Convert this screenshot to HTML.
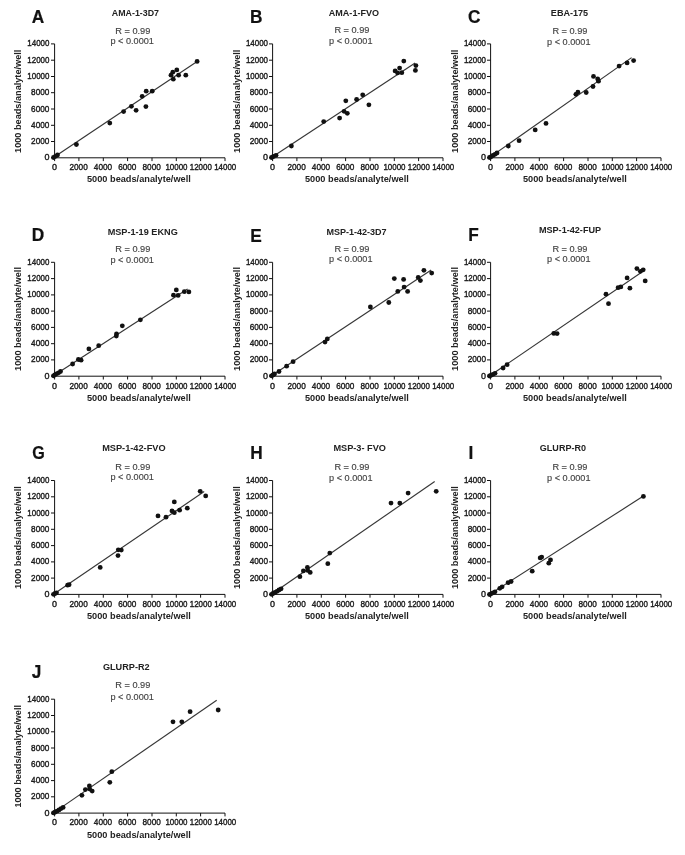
<!DOCTYPE html><html><head><meta charset="utf-8"><title>Figure</title><style>html,body{margin:0;padding:0;background:#fff}svg{display:block}text{font-family:"Liberation Sans",sans-serif}.t{font-size:9.6px;fill:#1a1a1a;stroke:#1a1a1a;stroke-width:.4}.b{font-size:9.3px;font-weight:bold;fill:#222}.s{font-size:9px;fill:#444;stroke:#444;stroke-width:.15}.L{font-size:19.2px;font-weight:bold;fill:#111;stroke:#111;stroke-width:.22}.ax{stroke:#111;stroke-width:1;fill:none}.ln{stroke:#363636;stroke-width:1.15;fill:none}circle{fill:#111}</style></head><body>
<svg width="685" height="855" viewBox="0 0 685 855"><rect width="685" height="855" fill="#fff"/>
<g>
<text class="L" transform="translate(31.65 22.75) scale(.9 1)">A</text>
<text class="b" text-anchor="middle" x="135.4" y="16.1" textLength="47.1" lengthAdjust="spacingAndGlyphs">AMA-1-3D7</text>
<text class="s" text-anchor="middle" x="132.8" y="33.5" textLength="35" lengthAdjust="spacingAndGlyphs">R = 0.99</text>
<text class="s" text-anchor="middle" x="132.2" y="44.3" textLength="43.4" lengthAdjust="spacingAndGlyphs">p &lt; 0.0001</text>
<path class="ax" d="M54.6 43.9V157.8H225M54.6 157.8v3.3M54.6 157.8h-3.6M78.9 157.8v3.3M54.6 141.5h-3.6M103.3 157.8v3.3M54.6 125.3h-3.6M127.6 157.8v3.3M54.6 109h-3.6M152 157.8v3.3M54.6 92.7h-3.6M176.3 157.8v3.3M54.6 76.5h-3.6M200.6 157.8v3.3M54.6 60.2h-3.6M225 157.8v3.3M54.6 43.9h-3.6"/>
<text class="t" text-anchor="middle" x="54.6" y="169.9" textLength="5" lengthAdjust="spacingAndGlyphs">0</text>
<text class="t" text-anchor="end" x="49.4" y="160.3" textLength="5" lengthAdjust="spacingAndGlyphs">0</text>
<text class="t" text-anchor="middle" x="78.6" y="169.9" textLength="18.3" lengthAdjust="spacingAndGlyphs">2000</text>
<text class="t" text-anchor="end" x="49.4" y="144" textLength="18.3" lengthAdjust="spacingAndGlyphs">2000</text>
<text class="t" text-anchor="middle" x="103" y="169.9" textLength="18.3" lengthAdjust="spacingAndGlyphs">4000</text>
<text class="t" text-anchor="end" x="49.4" y="127.8" textLength="18.3" lengthAdjust="spacingAndGlyphs">4000</text>
<text class="t" text-anchor="middle" x="127.3" y="169.9" textLength="18.3" lengthAdjust="spacingAndGlyphs">6000</text>
<text class="t" text-anchor="end" x="49.4" y="111.5" textLength="18.3" lengthAdjust="spacingAndGlyphs">6000</text>
<text class="t" text-anchor="middle" x="151.7" y="169.9" textLength="18.3" lengthAdjust="spacingAndGlyphs">8000</text>
<text class="t" text-anchor="end" x="49.4" y="95.2" textLength="18.3" lengthAdjust="spacingAndGlyphs">8000</text>
<text class="t" text-anchor="middle" x="176.5" y="169.9" textLength="22.1" lengthAdjust="spacingAndGlyphs">10000</text>
<text class="t" text-anchor="end" x="49.4" y="79" textLength="22.1" lengthAdjust="spacingAndGlyphs">10000</text>
<text class="t" text-anchor="middle" x="200.8" y="169.9" textLength="22.1" lengthAdjust="spacingAndGlyphs">12000</text>
<text class="t" text-anchor="end" x="49.4" y="62.7" textLength="22.1" lengthAdjust="spacingAndGlyphs">12000</text>
<text class="t" text-anchor="middle" x="225.2" y="169.9" textLength="22.1" lengthAdjust="spacingAndGlyphs">14000</text>
<text class="t" text-anchor="end" x="49.4" y="46.4" textLength="22.1" lengthAdjust="spacingAndGlyphs">14000</text>
<text class="b" text-anchor="middle" x="138.9" y="182.4" textLength="103.8" lengthAdjust="spacingAndGlyphs">5000 beads/analyte/well</text>
<text class="b" text-anchor="middle" transform="translate(21 101.3) rotate(-90)" textLength="103.2" lengthAdjust="spacingAndGlyphs">1000 beads/analyte/well</text>
<path class="ln" d="M53.5 157.5L197.1 61.4"/>
<circle cx="197.1" cy="61.4" r="2.42"/>
<circle cx="176.8" cy="69.9" r="2.42"/>
<circle cx="172.8" cy="72.2" r="2.42"/>
<circle cx="171" cy="75.2" r="2.42"/>
<circle cx="178.6" cy="75.2" r="2.42"/>
<circle cx="185.8" cy="75.2" r="2.42"/>
<circle cx="173.3" cy="79.2" r="2.42"/>
<circle cx="146.2" cy="91.2" r="2.42"/>
<circle cx="152.2" cy="91.2" r="2.42"/>
<circle cx="142.2" cy="96.3" r="2.42"/>
<circle cx="145.9" cy="106.6" r="2.42"/>
<circle cx="131.4" cy="106.3" r="2.42"/>
<circle cx="136.1" cy="110.3" r="2.42"/>
<circle cx="123.6" cy="111.6" r="2.42"/>
<circle cx="109.8" cy="123.1" r="2.42"/>
<circle cx="76.4" cy="144.5" r="2.42"/>
<circle cx="57.5" cy="155" r="2.42"/>
<circle cx="55.5" cy="156.3" r="2.42"/>
<circle cx="53.5" cy="157.5" r="2.42"/>
</g>
<g>
<text class="L" transform="translate(250.1 22.5) scale(.9 1)">B</text>
<text class="b" text-anchor="middle" x="353.9" y="15.5" textLength="50.2" lengthAdjust="spacingAndGlyphs">AMA-1-FVO</text>
<text class="s" text-anchor="middle" x="351.9" y="32.7" textLength="35" lengthAdjust="spacingAndGlyphs">R = 0.99</text>
<text class="s" text-anchor="middle" x="350.8" y="43.8" textLength="43.4" lengthAdjust="spacingAndGlyphs">p &lt; 0.0001</text>
<path class="ax" d="M272.6 43.9V157.8H443M272.6 157.8v3.3M272.6 157.8h-3.6M296.9 157.8v3.3M272.6 141.5h-3.6M321.3 157.8v3.3M272.6 125.3h-3.6M345.6 157.8v3.3M272.6 109h-3.6M370 157.8v3.3M272.6 92.7h-3.6M394.3 157.8v3.3M272.6 76.5h-3.6M418.6 157.8v3.3M272.6 60.2h-3.6M443 157.8v3.3M272.6 43.9h-3.6"/>
<text class="t" text-anchor="middle" x="272.6" y="169.9" textLength="5" lengthAdjust="spacingAndGlyphs">0</text>
<text class="t" text-anchor="end" x="268" y="160.3" textLength="5" lengthAdjust="spacingAndGlyphs">0</text>
<text class="t" text-anchor="middle" x="296.6" y="169.9" textLength="18.3" lengthAdjust="spacingAndGlyphs">2000</text>
<text class="t" text-anchor="end" x="268" y="144" textLength="18.3" lengthAdjust="spacingAndGlyphs">2000</text>
<text class="t" text-anchor="middle" x="321" y="169.9" textLength="18.3" lengthAdjust="spacingAndGlyphs">4000</text>
<text class="t" text-anchor="end" x="268" y="127.8" textLength="18.3" lengthAdjust="spacingAndGlyphs">4000</text>
<text class="t" text-anchor="middle" x="345.3" y="169.9" textLength="18.3" lengthAdjust="spacingAndGlyphs">6000</text>
<text class="t" text-anchor="end" x="268" y="111.5" textLength="18.3" lengthAdjust="spacingAndGlyphs">6000</text>
<text class="t" text-anchor="middle" x="369.7" y="169.9" textLength="18.3" lengthAdjust="spacingAndGlyphs">8000</text>
<text class="t" text-anchor="end" x="268" y="95.2" textLength="18.3" lengthAdjust="spacingAndGlyphs">8000</text>
<text class="t" text-anchor="middle" x="394.5" y="169.9" textLength="22.1" lengthAdjust="spacingAndGlyphs">10000</text>
<text class="t" text-anchor="end" x="268" y="79" textLength="22.1" lengthAdjust="spacingAndGlyphs">10000</text>
<text class="t" text-anchor="middle" x="418.8" y="169.9" textLength="22.1" lengthAdjust="spacingAndGlyphs">12000</text>
<text class="t" text-anchor="end" x="268" y="62.7" textLength="22.1" lengthAdjust="spacingAndGlyphs">12000</text>
<text class="t" text-anchor="middle" x="443.2" y="169.9" textLength="22.1" lengthAdjust="spacingAndGlyphs">14000</text>
<text class="t" text-anchor="end" x="268" y="46.4" textLength="22.1" lengthAdjust="spacingAndGlyphs">14000</text>
<text class="b" text-anchor="middle" x="356.9" y="182.4" textLength="103.8" lengthAdjust="spacingAndGlyphs">5000 beads/analyte/well</text>
<text class="b" text-anchor="middle" transform="translate(239.9 101.3) rotate(-90)" textLength="103.2" lengthAdjust="spacingAndGlyphs">1000 beads/analyte/well</text>
<path class="ln" d="M271.5 157.5L415.1 63.1"/>
<circle cx="403.8" cy="61.1" r="2.42"/>
<circle cx="415.9" cy="65.6" r="2.42"/>
<circle cx="415.4" cy="70.4" r="2.42"/>
<circle cx="399.6" cy="68.1" r="2.42"/>
<circle cx="395.1" cy="70.9" r="2.42"/>
<circle cx="397.6" cy="72.9" r="2.42"/>
<circle cx="401.8" cy="72.7" r="2.42"/>
<circle cx="362.7" cy="94.8" r="2.42"/>
<circle cx="356.6" cy="99.5" r="2.42"/>
<circle cx="345.8" cy="100.8" r="2.42"/>
<circle cx="368.9" cy="104.8" r="2.42"/>
<circle cx="344.1" cy="111.3" r="2.42"/>
<circle cx="347.3" cy="113.3" r="2.42"/>
<circle cx="339.6" cy="118.1" r="2.42"/>
<circle cx="323.7" cy="121.6" r="2.42"/>
<circle cx="291.4" cy="146" r="2.42"/>
<circle cx="276" cy="155.3" r="2.42"/>
<circle cx="273.5" cy="156.5" r="2.42"/>
<circle cx="271.5" cy="157.5" r="2.42"/>
</g>
<g>
<text class="L" transform="translate(468.05 22.65) scale(.9 1)">C</text>
<text class="b" text-anchor="middle" x="569.5" y="16.3" textLength="37.3" lengthAdjust="spacingAndGlyphs">EBA-175</text>
<text class="s" text-anchor="middle" x="569.9" y="33.9" textLength="35" lengthAdjust="spacingAndGlyphs">R = 0.99</text>
<text class="s" text-anchor="middle" x="568.8" y="44.7" textLength="43.4" lengthAdjust="spacingAndGlyphs">p &lt; 0.0001</text>
<path class="ax" d="M490.6 43.9V157.8H661M490.6 157.8v3.3M490.6 157.8h-3.6M514.9 157.8v3.3M490.6 141.5h-3.6M539.3 157.8v3.3M490.6 125.3h-3.6M563.6 157.8v3.3M490.6 109h-3.6M588 157.8v3.3M490.6 92.7h-3.6M612.3 157.8v3.3M490.6 76.5h-3.6M636.6 157.8v3.3M490.6 60.2h-3.6M661 157.8v3.3M490.6 43.9h-3.6"/>
<text class="t" text-anchor="middle" x="490.6" y="169.9" textLength="5" lengthAdjust="spacingAndGlyphs">0</text>
<text class="t" text-anchor="end" x="486" y="160.3" textLength="5" lengthAdjust="spacingAndGlyphs">0</text>
<text class="t" text-anchor="middle" x="514.6" y="169.9" textLength="18.3" lengthAdjust="spacingAndGlyphs">2000</text>
<text class="t" text-anchor="end" x="486" y="144" textLength="18.3" lengthAdjust="spacingAndGlyphs">2000</text>
<text class="t" text-anchor="middle" x="539" y="169.9" textLength="18.3" lengthAdjust="spacingAndGlyphs">4000</text>
<text class="t" text-anchor="end" x="486" y="127.8" textLength="18.3" lengthAdjust="spacingAndGlyphs">4000</text>
<text class="t" text-anchor="middle" x="563.3" y="169.9" textLength="18.3" lengthAdjust="spacingAndGlyphs">6000</text>
<text class="t" text-anchor="end" x="486" y="111.5" textLength="18.3" lengthAdjust="spacingAndGlyphs">6000</text>
<text class="t" text-anchor="middle" x="587.7" y="169.9" textLength="18.3" lengthAdjust="spacingAndGlyphs">8000</text>
<text class="t" text-anchor="end" x="486" y="95.2" textLength="18.3" lengthAdjust="spacingAndGlyphs">8000</text>
<text class="t" text-anchor="middle" x="612.5" y="169.9" textLength="22.1" lengthAdjust="spacingAndGlyphs">10000</text>
<text class="t" text-anchor="end" x="486" y="79" textLength="22.1" lengthAdjust="spacingAndGlyphs">10000</text>
<text class="t" text-anchor="middle" x="636.8" y="169.9" textLength="22.1" lengthAdjust="spacingAndGlyphs">12000</text>
<text class="t" text-anchor="end" x="486" y="62.7" textLength="22.1" lengthAdjust="spacingAndGlyphs">12000</text>
<text class="t" text-anchor="middle" x="661.2" y="169.9" textLength="22.1" lengthAdjust="spacingAndGlyphs">14000</text>
<text class="t" text-anchor="end" x="486" y="46.4" textLength="22.1" lengthAdjust="spacingAndGlyphs">14000</text>
<text class="b" text-anchor="middle" x="574.9" y="182.4" textLength="103.8" lengthAdjust="spacingAndGlyphs">5000 beads/analyte/well</text>
<text class="b" text-anchor="middle" transform="translate(457.9 101.3) rotate(-90)" textLength="103.2" lengthAdjust="spacingAndGlyphs">1000 beads/analyte/well</text>
<path class="ln" d="M489.5 157.5L631.6 57.6"/>
<circle cx="633.6" cy="60.6" r="2.42"/>
<circle cx="627.1" cy="62.9" r="2.42"/>
<circle cx="619.1" cy="66.1" r="2.42"/>
<circle cx="593.5" cy="76.4" r="2.42"/>
<circle cx="597.7" cy="78.9" r="2.42"/>
<circle cx="598.5" cy="81.2" r="2.42"/>
<circle cx="593" cy="86.5" r="2.42"/>
<circle cx="586.2" cy="92.5" r="2.42"/>
<circle cx="577.9" cy="92.2" r="2.42"/>
<circle cx="575.9" cy="94.3" r="2.42"/>
<circle cx="546" cy="123.4" r="2.42"/>
<circle cx="535.2" cy="129.9" r="2.42"/>
<circle cx="519.1" cy="140.7" r="2.42"/>
<circle cx="508.3" cy="146" r="2.42"/>
<circle cx="497" cy="153" r="2.42"/>
<circle cx="495" cy="154.3" r="2.42"/>
<circle cx="493" cy="155.5" r="2.42"/>
<circle cx="491" cy="156.8" r="2.42"/>
<circle cx="489.5" cy="157.5" r="2.42"/>
</g>
<g>
<text class="L" transform="translate(31.85 241.1) scale(.9 1)">D</text>
<text class="b" text-anchor="middle" x="142.7" y="234.9" textLength="70.1" lengthAdjust="spacingAndGlyphs">MSP-1-19 EKNG</text>
<text class="s" text-anchor="middle" x="132.8" y="251.9" textLength="35" lengthAdjust="spacingAndGlyphs">R = 0.99</text>
<text class="s" text-anchor="middle" x="132.2" y="262.6" textLength="43.4" lengthAdjust="spacingAndGlyphs">p &lt; 0.0001</text>
<path class="ax" d="M54.6 262.3V376.2H225M54.6 376.2v3.3M54.6 376.2h-3.6M78.9 376.2v3.3M54.6 359.9h-3.6M103.3 376.2v3.3M54.6 343.7h-3.6M127.6 376.2v3.3M54.6 327.4h-3.6M152 376.2v3.3M54.6 311.1h-3.6M176.3 376.2v3.3M54.6 294.9h-3.6M200.6 376.2v3.3M54.6 278.6h-3.6M225 376.2v3.3M54.6 262.3h-3.6"/>
<text class="t" text-anchor="middle" x="54.6" y="388.8" textLength="5" lengthAdjust="spacingAndGlyphs">0</text>
<text class="t" text-anchor="end" x="49.4" y="378.7" textLength="5" lengthAdjust="spacingAndGlyphs">0</text>
<text class="t" text-anchor="middle" x="78.6" y="388.8" textLength="18.3" lengthAdjust="spacingAndGlyphs">2000</text>
<text class="t" text-anchor="end" x="49.4" y="362.4" textLength="18.3" lengthAdjust="spacingAndGlyphs">2000</text>
<text class="t" text-anchor="middle" x="103" y="388.8" textLength="18.3" lengthAdjust="spacingAndGlyphs">4000</text>
<text class="t" text-anchor="end" x="49.4" y="346.2" textLength="18.3" lengthAdjust="spacingAndGlyphs">4000</text>
<text class="t" text-anchor="middle" x="127.3" y="388.8" textLength="18.3" lengthAdjust="spacingAndGlyphs">6000</text>
<text class="t" text-anchor="end" x="49.4" y="329.9" textLength="18.3" lengthAdjust="spacingAndGlyphs">6000</text>
<text class="t" text-anchor="middle" x="151.7" y="388.8" textLength="18.3" lengthAdjust="spacingAndGlyphs">8000</text>
<text class="t" text-anchor="end" x="49.4" y="313.6" textLength="18.3" lengthAdjust="spacingAndGlyphs">8000</text>
<text class="t" text-anchor="middle" x="176.5" y="388.8" textLength="22.1" lengthAdjust="spacingAndGlyphs">10000</text>
<text class="t" text-anchor="end" x="49.4" y="297.4" textLength="22.1" lengthAdjust="spacingAndGlyphs">10000</text>
<text class="t" text-anchor="middle" x="200.8" y="388.8" textLength="22.1" lengthAdjust="spacingAndGlyphs">12000</text>
<text class="t" text-anchor="end" x="49.4" y="281.1" textLength="22.1" lengthAdjust="spacingAndGlyphs">12000</text>
<text class="t" text-anchor="middle" x="225.2" y="388.8" textLength="22.1" lengthAdjust="spacingAndGlyphs">14000</text>
<text class="t" text-anchor="end" x="49.4" y="264.8" textLength="22.1" lengthAdjust="spacingAndGlyphs">14000</text>
<text class="b" text-anchor="middle" x="138.9" y="400.8" textLength="103.8" lengthAdjust="spacingAndGlyphs">5000 beads/analyte/well</text>
<text class="b" text-anchor="middle" transform="translate(21 319) rotate(-90)" textLength="103.9" lengthAdjust="spacingAndGlyphs">1000 beads/analyte/well</text>
<path class="ln" d="M53.5 375.8L187.6 288.9"/>
<circle cx="176.3" cy="289.9" r="2.42"/>
<circle cx="184.3" cy="291.7" r="2.42"/>
<circle cx="188.9" cy="291.9" r="2.42"/>
<circle cx="173.5" cy="295.2" r="2.42"/>
<circle cx="178.1" cy="295.4" r="2.42"/>
<circle cx="140.4" cy="319.8" r="2.42"/>
<circle cx="122.3" cy="325.8" r="2.42"/>
<circle cx="116.5" cy="333.9" r="2.42"/>
<circle cx="116.3" cy="336.1" r="2.42"/>
<circle cx="98.7" cy="345.7" r="2.42"/>
<circle cx="88.9" cy="348.9" r="2.42"/>
<circle cx="78.4" cy="359.5" r="2.42"/>
<circle cx="81.1" cy="360.2" r="2.42"/>
<circle cx="72.6" cy="364" r="2.42"/>
<circle cx="60.5" cy="371.5" r="2.42"/>
<circle cx="58.5" cy="372.8" r="2.42"/>
<circle cx="56.5" cy="373.8" r="2.42"/>
<circle cx="54.8" cy="374.8" r="2.42"/>
<circle cx="53.5" cy="375.8" r="2.42"/>
</g>
<g>
<text class="L" transform="translate(250.35 242.25) scale(.9 1)">E</text>
<text class="b" text-anchor="middle" x="356.5" y="235.2" textLength="60.2" lengthAdjust="spacingAndGlyphs">MSP-1-42-3D7</text>
<text class="s" text-anchor="middle" x="351.9" y="251.5" textLength="35" lengthAdjust="spacingAndGlyphs">R = 0.99</text>
<text class="s" text-anchor="middle" x="350.8" y="262.4" textLength="43.4" lengthAdjust="spacingAndGlyphs">p &lt; 0.0001</text>
<path class="ax" d="M272.6 262.3V376.2H443M272.6 376.2v3.3M272.6 376.2h-3.6M296.9 376.2v3.3M272.6 359.9h-3.6M321.3 376.2v3.3M272.6 343.7h-3.6M345.6 376.2v3.3M272.6 327.4h-3.6M370 376.2v3.3M272.6 311.1h-3.6M394.3 376.2v3.3M272.6 294.9h-3.6M418.6 376.2v3.3M272.6 278.6h-3.6M443 376.2v3.3M272.6 262.3h-3.6"/>
<text class="t" text-anchor="middle" x="272.6" y="388.8" textLength="5" lengthAdjust="spacingAndGlyphs">0</text>
<text class="t" text-anchor="end" x="268" y="378.7" textLength="5" lengthAdjust="spacingAndGlyphs">0</text>
<text class="t" text-anchor="middle" x="296.6" y="388.8" textLength="18.3" lengthAdjust="spacingAndGlyphs">2000</text>
<text class="t" text-anchor="end" x="268" y="362.4" textLength="18.3" lengthAdjust="spacingAndGlyphs">2000</text>
<text class="t" text-anchor="middle" x="321" y="388.8" textLength="18.3" lengthAdjust="spacingAndGlyphs">4000</text>
<text class="t" text-anchor="end" x="268" y="346.2" textLength="18.3" lengthAdjust="spacingAndGlyphs">4000</text>
<text class="t" text-anchor="middle" x="345.3" y="388.8" textLength="18.3" lengthAdjust="spacingAndGlyphs">6000</text>
<text class="t" text-anchor="end" x="268" y="329.9" textLength="18.3" lengthAdjust="spacingAndGlyphs">6000</text>
<text class="t" text-anchor="middle" x="369.7" y="388.8" textLength="18.3" lengthAdjust="spacingAndGlyphs">8000</text>
<text class="t" text-anchor="end" x="268" y="313.6" textLength="18.3" lengthAdjust="spacingAndGlyphs">8000</text>
<text class="t" text-anchor="middle" x="394.5" y="388.8" textLength="22.1" lengthAdjust="spacingAndGlyphs">10000</text>
<text class="t" text-anchor="end" x="268" y="297.4" textLength="22.1" lengthAdjust="spacingAndGlyphs">10000</text>
<text class="t" text-anchor="middle" x="418.8" y="388.8" textLength="22.1" lengthAdjust="spacingAndGlyphs">12000</text>
<text class="t" text-anchor="end" x="268" y="281.1" textLength="22.1" lengthAdjust="spacingAndGlyphs">12000</text>
<text class="t" text-anchor="middle" x="443.2" y="388.8" textLength="22.1" lengthAdjust="spacingAndGlyphs">14000</text>
<text class="t" text-anchor="end" x="268" y="264.8" textLength="22.1" lengthAdjust="spacingAndGlyphs">14000</text>
<text class="b" text-anchor="middle" x="356.9" y="400.8" textLength="103.8" lengthAdjust="spacingAndGlyphs">5000 beads/analyte/well</text>
<text class="b" text-anchor="middle" transform="translate(239.9 319) rotate(-90)" textLength="103.9" lengthAdjust="spacingAndGlyphs">1000 beads/analyte/well</text>
<path class="ln" d="M271.5 375.8L431.2 270.1"/>
<circle cx="423.9" cy="270.3" r="2.42"/>
<circle cx="431.7" cy="273.1" r="2.42"/>
<circle cx="394.3" cy="278.6" r="2.42"/>
<circle cx="403.6" cy="279.4" r="2.42"/>
<circle cx="418.2" cy="277.4" r="2.42"/>
<circle cx="420.4" cy="280.6" r="2.42"/>
<circle cx="404.1" cy="287.1" r="2.42"/>
<circle cx="397.8" cy="291.4" r="2.42"/>
<circle cx="407.6" cy="291.4" r="2.42"/>
<circle cx="388.8" cy="302.5" r="2.42"/>
<circle cx="370.4" cy="307" r="2.42"/>
<circle cx="327.3" cy="338.9" r="2.42"/>
<circle cx="325" cy="342.1" r="2.42"/>
<circle cx="293.1" cy="361.7" r="2.42"/>
<circle cx="286.6" cy="366.2" r="2.42"/>
<circle cx="279" cy="371.5" r="2.42"/>
<circle cx="274.5" cy="374" r="2.42"/>
<circle cx="273" cy="375" r="2.42"/>
<circle cx="271.5" cy="375.8" r="2.42"/>
</g>
<g>
<text class="L" transform="translate(468.25 241.15) scale(.9 1)">F</text>
<text class="b" text-anchor="middle" x="570" y="233.4" textLength="62.2" lengthAdjust="spacingAndGlyphs">MSP-1-42-FUP</text>
<text class="s" text-anchor="middle" x="569.9" y="251.6" textLength="35" lengthAdjust="spacingAndGlyphs">R = 0.99</text>
<text class="s" text-anchor="middle" x="568.8" y="262.2" textLength="43.4" lengthAdjust="spacingAndGlyphs">p &lt; 0.0001</text>
<path class="ax" d="M490.6 262.3V376.2H661M490.6 376.2v3.3M490.6 376.2h-3.6M514.9 376.2v3.3M490.6 359.9h-3.6M539.3 376.2v3.3M490.6 343.7h-3.6M563.6 376.2v3.3M490.6 327.4h-3.6M588 376.2v3.3M490.6 311.1h-3.6M612.3 376.2v3.3M490.6 294.9h-3.6M636.6 376.2v3.3M490.6 278.6h-3.6M661 376.2v3.3M490.6 262.3h-3.6"/>
<text class="t" text-anchor="middle" x="490.6" y="388.8" textLength="5" lengthAdjust="spacingAndGlyphs">0</text>
<text class="t" text-anchor="end" x="486" y="378.7" textLength="5" lengthAdjust="spacingAndGlyphs">0</text>
<text class="t" text-anchor="middle" x="514.6" y="388.8" textLength="18.3" lengthAdjust="spacingAndGlyphs">2000</text>
<text class="t" text-anchor="end" x="486" y="362.4" textLength="18.3" lengthAdjust="spacingAndGlyphs">2000</text>
<text class="t" text-anchor="middle" x="539" y="388.8" textLength="18.3" lengthAdjust="spacingAndGlyphs">4000</text>
<text class="t" text-anchor="end" x="486" y="346.2" textLength="18.3" lengthAdjust="spacingAndGlyphs">4000</text>
<text class="t" text-anchor="middle" x="563.3" y="388.8" textLength="18.3" lengthAdjust="spacingAndGlyphs">6000</text>
<text class="t" text-anchor="end" x="486" y="329.9" textLength="18.3" lengthAdjust="spacingAndGlyphs">6000</text>
<text class="t" text-anchor="middle" x="587.7" y="388.8" textLength="18.3" lengthAdjust="spacingAndGlyphs">8000</text>
<text class="t" text-anchor="end" x="486" y="313.6" textLength="18.3" lengthAdjust="spacingAndGlyphs">8000</text>
<text class="t" text-anchor="middle" x="612.5" y="388.8" textLength="22.1" lengthAdjust="spacingAndGlyphs">10000</text>
<text class="t" text-anchor="end" x="486" y="297.4" textLength="22.1" lengthAdjust="spacingAndGlyphs">10000</text>
<text class="t" text-anchor="middle" x="636.8" y="388.8" textLength="22.1" lengthAdjust="spacingAndGlyphs">12000</text>
<text class="t" text-anchor="end" x="486" y="281.1" textLength="22.1" lengthAdjust="spacingAndGlyphs">12000</text>
<text class="t" text-anchor="middle" x="661.2" y="388.8" textLength="22.1" lengthAdjust="spacingAndGlyphs">14000</text>
<text class="t" text-anchor="end" x="486" y="264.8" textLength="22.1" lengthAdjust="spacingAndGlyphs">14000</text>
<text class="b" text-anchor="middle" x="574.9" y="400.8" textLength="103.8" lengthAdjust="spacingAndGlyphs">5000 beads/analyte/well</text>
<text class="b" text-anchor="middle" transform="translate(457.9 319) rotate(-90)" textLength="103.9" lengthAdjust="spacingAndGlyphs">1000 beads/analyte/well</text>
<path class="ln" d="M489.5 376L644.2 270.6"/>
<circle cx="636.9" cy="268.6" r="2.42"/>
<circle cx="643.2" cy="269.8" r="2.42"/>
<circle cx="640.4" cy="271.3" r="2.42"/>
<circle cx="627.1" cy="277.9" r="2.42"/>
<circle cx="645.2" cy="280.9" r="2.42"/>
<circle cx="618.1" cy="287.7" r="2.42"/>
<circle cx="620.8" cy="286.9" r="2.42"/>
<circle cx="629.9" cy="288.2" r="2.42"/>
<circle cx="606" cy="294.2" r="2.42"/>
<circle cx="608.5" cy="303.7" r="2.42"/>
<circle cx="553.8" cy="333.4" r="2.42"/>
<circle cx="557.1" cy="333.6" r="2.42"/>
<circle cx="507.1" cy="364.7" r="2.42"/>
<circle cx="503.1" cy="368" r="2.42"/>
<circle cx="495" cy="373.3" r="2.42"/>
<circle cx="493" cy="374.3" r="2.42"/>
<circle cx="491" cy="375.3" r="2.42"/>
<circle cx="489.5" cy="376" r="2.42"/>
</g>
<g>
<text class="L" transform="translate(32.25 458.55) scale(.84 1)">G</text>
<text class="b" text-anchor="middle" x="133.9" y="451.2" textLength="63.5" lengthAdjust="spacingAndGlyphs">MSP-1-42-FVO</text>
<text class="s" text-anchor="middle" x="132.8" y="469.5" textLength="35" lengthAdjust="spacingAndGlyphs">R = 0.99</text>
<text class="s" text-anchor="middle" x="132.2" y="480.4" textLength="43.4" lengthAdjust="spacingAndGlyphs">p &lt; 0.0001</text>
<path class="ax" d="M54.6 480.5V594.4H225M54.6 594.4v3.3M54.6 594.4h-3.6M78.9 594.4v3.3M54.6 578.1h-3.6M103.3 594.4v3.3M54.6 561.9h-3.6M127.6 594.4v3.3M54.6 545.6h-3.6M152 594.4v3.3M54.6 529.3h-3.6M176.3 594.4v3.3M54.6 513h-3.6M200.6 594.4v3.3M54.6 496.8h-3.6M225 594.4v3.3M54.6 480.5h-3.6"/>
<text class="t" text-anchor="middle" x="54.6" y="606.5" textLength="5" lengthAdjust="spacingAndGlyphs">0</text>
<text class="t" text-anchor="end" x="49.4" y="596.9" textLength="5" lengthAdjust="spacingAndGlyphs">0</text>
<text class="t" text-anchor="middle" x="78.6" y="606.5" textLength="18.3" lengthAdjust="spacingAndGlyphs">2000</text>
<text class="t" text-anchor="end" x="49.4" y="580.6" textLength="18.3" lengthAdjust="spacingAndGlyphs">2000</text>
<text class="t" text-anchor="middle" x="103" y="606.5" textLength="18.3" lengthAdjust="spacingAndGlyphs">4000</text>
<text class="t" text-anchor="end" x="49.4" y="564.4" textLength="18.3" lengthAdjust="spacingAndGlyphs">4000</text>
<text class="t" text-anchor="middle" x="127.3" y="606.5" textLength="18.3" lengthAdjust="spacingAndGlyphs">6000</text>
<text class="t" text-anchor="end" x="49.4" y="548.1" textLength="18.3" lengthAdjust="spacingAndGlyphs">6000</text>
<text class="t" text-anchor="middle" x="151.7" y="606.5" textLength="18.3" lengthAdjust="spacingAndGlyphs">8000</text>
<text class="t" text-anchor="end" x="49.4" y="531.8" textLength="18.3" lengthAdjust="spacingAndGlyphs">8000</text>
<text class="t" text-anchor="middle" x="176.5" y="606.5" textLength="22.1" lengthAdjust="spacingAndGlyphs">10000</text>
<text class="t" text-anchor="end" x="49.4" y="515.5" textLength="22.1" lengthAdjust="spacingAndGlyphs">10000</text>
<text class="t" text-anchor="middle" x="200.8" y="606.5" textLength="22.1" lengthAdjust="spacingAndGlyphs">12000</text>
<text class="t" text-anchor="end" x="49.4" y="499.3" textLength="22.1" lengthAdjust="spacingAndGlyphs">12000</text>
<text class="t" text-anchor="middle" x="225.2" y="606.5" textLength="22.1" lengthAdjust="spacingAndGlyphs">14000</text>
<text class="t" text-anchor="end" x="49.4" y="483" textLength="22.1" lengthAdjust="spacingAndGlyphs">14000</text>
<text class="b" text-anchor="middle" x="138.9" y="619" textLength="103.8" lengthAdjust="spacingAndGlyphs">5000 beads/analyte/well</text>
<text class="b" text-anchor="middle" transform="translate(21 537.6) rotate(-90)" textLength="102.7" lengthAdjust="spacingAndGlyphs">1000 beads/analyte/well</text>
<path class="ln" d="M53.5 594.3L204.2 491.6"/>
<circle cx="200.2" cy="491.3" r="2.42"/>
<circle cx="205.7" cy="495.9" r="2.42"/>
<circle cx="174.3" cy="501.9" r="2.42"/>
<circle cx="187.3" cy="508.2" r="2.42"/>
<circle cx="179.6" cy="510.2" r="2.42"/>
<circle cx="172" cy="510.9" r="2.42"/>
<circle cx="174.3" cy="512.7" r="2.42"/>
<circle cx="158" cy="515.9" r="2.42"/>
<circle cx="166" cy="517.2" r="2.42"/>
<circle cx="118.3" cy="549.8" r="2.42"/>
<circle cx="121.3" cy="550.1" r="2.42"/>
<circle cx="118" cy="555.6" r="2.42"/>
<circle cx="100.2" cy="567.4" r="2.42"/>
<circle cx="67.6" cy="585.2" r="2.42"/>
<circle cx="69.1" cy="584.7" r="2.42"/>
<circle cx="56.5" cy="592.8" r="2.42"/>
<circle cx="55" cy="593.5" r="2.42"/>
<circle cx="53.5" cy="594.3" r="2.42"/>
</g>
<g>
<text class="L" transform="translate(250.35 459.1) scale(.9 1)">H</text>
<text class="b" text-anchor="middle" x="359.7" y="451.2" textLength="52.6" lengthAdjust="spacingAndGlyphs">MSP-3- FVO</text>
<text class="s" text-anchor="middle" x="351.9" y="469.7" textLength="35" lengthAdjust="spacingAndGlyphs">R = 0.99</text>
<text class="s" text-anchor="middle" x="350.8" y="481.2" textLength="43.4" lengthAdjust="spacingAndGlyphs">p &lt; 0.0001</text>
<path class="ax" d="M272.6 480.5V594.4H443M272.6 594.4v3.3M272.6 594.4h-3.6M296.9 594.4v3.3M272.6 578.1h-3.6M321.3 594.4v3.3M272.6 561.9h-3.6M345.6 594.4v3.3M272.6 545.6h-3.6M370 594.4v3.3M272.6 529.3h-3.6M394.3 594.4v3.3M272.6 513h-3.6M418.6 594.4v3.3M272.6 496.8h-3.6M443 594.4v3.3M272.6 480.5h-3.6"/>
<text class="t" text-anchor="middle" x="272.6" y="606.5" textLength="5" lengthAdjust="spacingAndGlyphs">0</text>
<text class="t" text-anchor="end" x="268" y="596.9" textLength="5" lengthAdjust="spacingAndGlyphs">0</text>
<text class="t" text-anchor="middle" x="296.6" y="606.5" textLength="18.3" lengthAdjust="spacingAndGlyphs">2000</text>
<text class="t" text-anchor="end" x="268" y="580.6" textLength="18.3" lengthAdjust="spacingAndGlyphs">2000</text>
<text class="t" text-anchor="middle" x="321" y="606.5" textLength="18.3" lengthAdjust="spacingAndGlyphs">4000</text>
<text class="t" text-anchor="end" x="268" y="564.4" textLength="18.3" lengthAdjust="spacingAndGlyphs">4000</text>
<text class="t" text-anchor="middle" x="345.3" y="606.5" textLength="18.3" lengthAdjust="spacingAndGlyphs">6000</text>
<text class="t" text-anchor="end" x="268" y="548.1" textLength="18.3" lengthAdjust="spacingAndGlyphs">6000</text>
<text class="t" text-anchor="middle" x="369.7" y="606.5" textLength="18.3" lengthAdjust="spacingAndGlyphs">8000</text>
<text class="t" text-anchor="end" x="268" y="531.8" textLength="18.3" lengthAdjust="spacingAndGlyphs">8000</text>
<text class="t" text-anchor="middle" x="394.5" y="606.5" textLength="22.1" lengthAdjust="spacingAndGlyphs">10000</text>
<text class="t" text-anchor="end" x="268" y="515.5" textLength="22.1" lengthAdjust="spacingAndGlyphs">10000</text>
<text class="t" text-anchor="middle" x="418.8" y="606.5" textLength="22.1" lengthAdjust="spacingAndGlyphs">12000</text>
<text class="t" text-anchor="end" x="268" y="499.3" textLength="22.1" lengthAdjust="spacingAndGlyphs">12000</text>
<text class="t" text-anchor="middle" x="443.2" y="606.5" textLength="22.1" lengthAdjust="spacingAndGlyphs">14000</text>
<text class="t" text-anchor="end" x="268" y="483" textLength="22.1" lengthAdjust="spacingAndGlyphs">14000</text>
<text class="b" text-anchor="middle" x="356.9" y="619" textLength="103.8" lengthAdjust="spacingAndGlyphs">5000 beads/analyte/well</text>
<text class="b" text-anchor="middle" transform="translate(239.9 537.6) rotate(-90)" textLength="102.7" lengthAdjust="spacingAndGlyphs">1000 beads/analyte/well</text>
<path class="ln" d="M271.5 594.3L434.7 481.5"/>
<circle cx="436.2" cy="491.3" r="2.42"/>
<circle cx="408.1" cy="493.1" r="2.42"/>
<circle cx="391" cy="503.1" r="2.42"/>
<circle cx="399.8" cy="503.1" r="2.42"/>
<circle cx="329.8" cy="553.1" r="2.42"/>
<circle cx="327.8" cy="563.7" r="2.42"/>
<circle cx="307.4" cy="567.4" r="2.42"/>
<circle cx="303.4" cy="570.9" r="2.42"/>
<circle cx="307.7" cy="570.4" r="2.42"/>
<circle cx="310.2" cy="572.4" r="2.42"/>
<circle cx="299.9" cy="576.7" r="2.42"/>
<circle cx="281.1" cy="588.8" r="2.42"/>
<circle cx="279" cy="590" r="2.42"/>
<circle cx="277" cy="591.3" r="2.42"/>
<circle cx="275" cy="592.5" r="2.42"/>
<circle cx="273" cy="593.5" r="2.42"/>
<circle cx="271.5" cy="594.3" r="2.42"/>
</g>
<g>
<text class="L" transform="translate(468.55 459.1) scale(.9 1)">I</text>
<text class="b" text-anchor="middle" x="562.9" y="451.2" textLength="46.1" lengthAdjust="spacingAndGlyphs">GLURP-R0</text>
<text class="s" text-anchor="middle" x="569.9" y="469.9" textLength="35" lengthAdjust="spacingAndGlyphs">R = 0.99</text>
<text class="s" text-anchor="middle" x="568.8" y="481.2" textLength="43.4" lengthAdjust="spacingAndGlyphs">p &lt; 0.0001</text>
<path class="ax" d="M490.6 480.5V594.4H661M490.6 594.4v3.3M490.6 594.4h-3.6M514.9 594.4v3.3M490.6 578.1h-3.6M539.3 594.4v3.3M490.6 561.9h-3.6M563.6 594.4v3.3M490.6 545.6h-3.6M588 594.4v3.3M490.6 529.3h-3.6M612.3 594.4v3.3M490.6 513h-3.6M636.6 594.4v3.3M490.6 496.8h-3.6M661 594.4v3.3M490.6 480.5h-3.6"/>
<text class="t" text-anchor="middle" x="490.6" y="606.5" textLength="5" lengthAdjust="spacingAndGlyphs">0</text>
<text class="t" text-anchor="end" x="486" y="596.9" textLength="5" lengthAdjust="spacingAndGlyphs">0</text>
<text class="t" text-anchor="middle" x="514.6" y="606.5" textLength="18.3" lengthAdjust="spacingAndGlyphs">2000</text>
<text class="t" text-anchor="end" x="486" y="580.6" textLength="18.3" lengthAdjust="spacingAndGlyphs">2000</text>
<text class="t" text-anchor="middle" x="539" y="606.5" textLength="18.3" lengthAdjust="spacingAndGlyphs">4000</text>
<text class="t" text-anchor="end" x="486" y="564.4" textLength="18.3" lengthAdjust="spacingAndGlyphs">4000</text>
<text class="t" text-anchor="middle" x="563.3" y="606.5" textLength="18.3" lengthAdjust="spacingAndGlyphs">6000</text>
<text class="t" text-anchor="end" x="486" y="548.1" textLength="18.3" lengthAdjust="spacingAndGlyphs">6000</text>
<text class="t" text-anchor="middle" x="587.7" y="606.5" textLength="18.3" lengthAdjust="spacingAndGlyphs">8000</text>
<text class="t" text-anchor="end" x="486" y="531.8" textLength="18.3" lengthAdjust="spacingAndGlyphs">8000</text>
<text class="t" text-anchor="middle" x="612.5" y="606.5" textLength="22.1" lengthAdjust="spacingAndGlyphs">10000</text>
<text class="t" text-anchor="end" x="486" y="515.5" textLength="22.1" lengthAdjust="spacingAndGlyphs">10000</text>
<text class="t" text-anchor="middle" x="636.8" y="606.5" textLength="22.1" lengthAdjust="spacingAndGlyphs">12000</text>
<text class="t" text-anchor="end" x="486" y="499.3" textLength="22.1" lengthAdjust="spacingAndGlyphs">12000</text>
<text class="t" text-anchor="middle" x="661.2" y="606.5" textLength="22.1" lengthAdjust="spacingAndGlyphs">14000</text>
<text class="t" text-anchor="end" x="486" y="483" textLength="22.1" lengthAdjust="spacingAndGlyphs">14000</text>
<text class="b" text-anchor="middle" x="574.9" y="619" textLength="103.8" lengthAdjust="spacingAndGlyphs">5000 beads/analyte/well</text>
<text class="b" text-anchor="middle" transform="translate(457.9 537.6) rotate(-90)" textLength="102.7" lengthAdjust="spacingAndGlyphs">1000 beads/analyte/well</text>
<path class="ln" d="M489.5 594.5L644.2 495.6"/>
<circle cx="643.4" cy="496.4" r="2.42"/>
<circle cx="541.7" cy="557.1" r="2.42"/>
<circle cx="540.2" cy="557.9" r="2.42"/>
<circle cx="550.5" cy="559.9" r="2.42"/>
<circle cx="548.8" cy="563.2" r="2.42"/>
<circle cx="532.2" cy="571.2" r="2.42"/>
<circle cx="511.1" cy="581.5" r="2.42"/>
<circle cx="508.1" cy="582.7" r="2.42"/>
<circle cx="502.1" cy="586.8" r="2.42"/>
<circle cx="499.8" cy="588.3" r="2.42"/>
<circle cx="495" cy="591.8" r="2.42"/>
<circle cx="493" cy="592.8" r="2.42"/>
<circle cx="491" cy="593.8" r="2.42"/>
<circle cx="489.5" cy="594.5" r="2.42"/>
</g>
<g>
<text class="L" transform="translate(31.65 677.95) scale(.9 1)">J</text>
<text class="b" text-anchor="middle" x="126.3" y="669.7" textLength="46.8" lengthAdjust="spacingAndGlyphs">GLURP-R2</text>
<text class="s" text-anchor="middle" x="132.8" y="688.2" textLength="35" lengthAdjust="spacingAndGlyphs">R = 0.99</text>
<text class="s" text-anchor="middle" x="132.2" y="699.8" textLength="43.4" lengthAdjust="spacingAndGlyphs">p &lt; 0.0001</text>
<path class="ax" d="M54.6 699.2V813.1H225M54.6 813.1v3.3M54.6 813.1h-3.6M78.9 813.1v3.3M54.6 796.8h-3.6M103.3 813.1v3.3M54.6 780.6h-3.6M127.6 813.1v3.3M54.6 764.3h-3.6M152 813.1v3.3M54.6 748h-3.6M176.3 813.1v3.3M54.6 731.8h-3.6M200.6 813.1v3.3M54.6 715.5h-3.6M225 813.1v3.3M54.6 699.2h-3.6"/>
<text class="t" text-anchor="middle" x="54.6" y="825.2" textLength="5" lengthAdjust="spacingAndGlyphs">0</text>
<text class="t" text-anchor="end" x="49.4" y="815.6" textLength="5" lengthAdjust="spacingAndGlyphs">0</text>
<text class="t" text-anchor="middle" x="78.6" y="825.2" textLength="18.3" lengthAdjust="spacingAndGlyphs">2000</text>
<text class="t" text-anchor="end" x="49.4" y="799.3" textLength="18.3" lengthAdjust="spacingAndGlyphs">2000</text>
<text class="t" text-anchor="middle" x="103" y="825.2" textLength="18.3" lengthAdjust="spacingAndGlyphs">4000</text>
<text class="t" text-anchor="end" x="49.4" y="783.1" textLength="18.3" lengthAdjust="spacingAndGlyphs">4000</text>
<text class="t" text-anchor="middle" x="127.3" y="825.2" textLength="18.3" lengthAdjust="spacingAndGlyphs">6000</text>
<text class="t" text-anchor="end" x="49.4" y="766.8" textLength="18.3" lengthAdjust="spacingAndGlyphs">6000</text>
<text class="t" text-anchor="middle" x="151.7" y="825.2" textLength="18.3" lengthAdjust="spacingAndGlyphs">8000</text>
<text class="t" text-anchor="end" x="49.4" y="750.5" textLength="18.3" lengthAdjust="spacingAndGlyphs">8000</text>
<text class="t" text-anchor="middle" x="176.5" y="825.2" textLength="22.1" lengthAdjust="spacingAndGlyphs">10000</text>
<text class="t" text-anchor="end" x="49.4" y="734.2" textLength="22.1" lengthAdjust="spacingAndGlyphs">10000</text>
<text class="t" text-anchor="middle" x="200.8" y="825.2" textLength="22.1" lengthAdjust="spacingAndGlyphs">12000</text>
<text class="t" text-anchor="end" x="49.4" y="718" textLength="22.1" lengthAdjust="spacingAndGlyphs">12000</text>
<text class="t" text-anchor="middle" x="225.2" y="825.2" textLength="22.1" lengthAdjust="spacingAndGlyphs">14000</text>
<text class="t" text-anchor="end" x="49.4" y="701.7" textLength="22.1" lengthAdjust="spacingAndGlyphs">14000</text>
<text class="b" text-anchor="middle" x="138.9" y="837.7" textLength="103.8" lengthAdjust="spacingAndGlyphs">5000 beads/analyte/well</text>
<text class="b" text-anchor="middle" transform="translate(21 756.3) rotate(-90)" textLength="102.5" lengthAdjust="spacingAndGlyphs">1000 beads/analyte/well</text>
<path class="ln" d="M53.5 812.9L216.7 700.2"/>
<circle cx="218.2" cy="710" r="2.42"/>
<circle cx="190.1" cy="711.7" r="2.42"/>
<circle cx="173" cy="721.8" r="2.42"/>
<circle cx="181.8" cy="721.8" r="2.42"/>
<circle cx="111.8" cy="771.7" r="2.42"/>
<circle cx="109.8" cy="782.3" r="2.42"/>
<circle cx="89.4" cy="786" r="2.42"/>
<circle cx="85.4" cy="789.6" r="2.42"/>
<circle cx="89.7" cy="789.1" r="2.42"/>
<circle cx="92.2" cy="791.1" r="2.42"/>
<circle cx="81.9" cy="795.3" r="2.42"/>
<circle cx="63.1" cy="807.4" r="2.42"/>
<circle cx="61" cy="808.6" r="2.42"/>
<circle cx="59" cy="809.9" r="2.42"/>
<circle cx="57" cy="811.2" r="2.42"/>
<circle cx="55" cy="812.2" r="2.42"/>
<circle cx="53.5" cy="812.9" r="2.42"/>
</g>
</svg></body></html>
